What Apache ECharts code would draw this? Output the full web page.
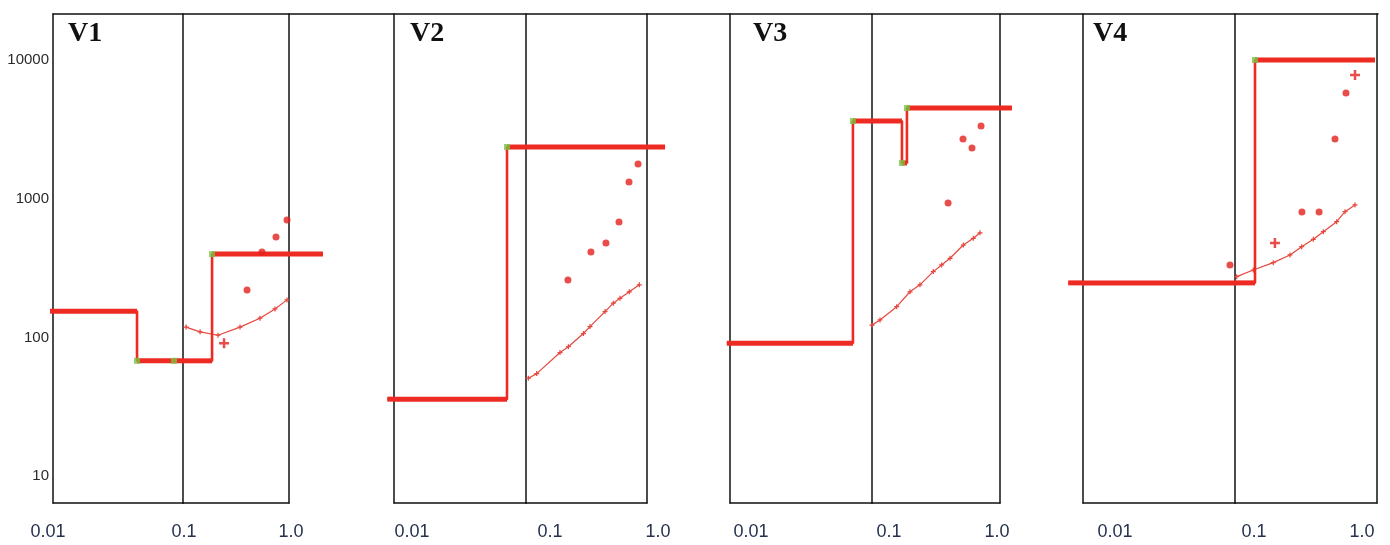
<!DOCTYPE html>
<html><head><meta charset="utf-8">
<script src="https://cdn.jsdelivr.net/npm/echarts@6/dist/echarts.min.js"></script>
<style>html,body{margin:0;padding:0;background:#fff}#c{width:1390px;height:545px}</style>
</head><body><div id="c"></div>
<script>
// ---------------- data ----------------
const panelNames = ['V1', 'V2', 'V3', 'V4'];
const xTickLabels = ['0.01', '0.1', '1.0'];          // 10^-2, 10^-1, 10^0
const yTickLabels = ['10', '100', '1000', '10000'];   // 10^1 .. 10^4

const v1Step  = [[0.0095,155],[0.0443,155],[0.0443,68],[0.188,68],[0.188,400],[2.09,400]];
const v1Nodes = [[0.0443,68],[0.0853,68],[0.188,400]];
const v1Curve = [[0.107,119],[0.145,110],[0.214,104],[0.345,119],[0.532,138],[0.738,161],[0.958,187]];
const v1Dots  = [[0.402,220],[0.556,414],[0.754,531],[0.958,705]];
const v1Plus  = [[0.244,91]];

const v2Step  = [[0.0089,36],[0.0718,36],[0.0718,2366],[1.41,2366]];
const v2Nodes = [[0.0718,2366]];
const v2Curve = [[0.1045,51],[0.1226,55],[0.191,78],[0.224,86],[0.298,107],[0.338,120],[0.450,154],[0.527,177],[0.598,192],[0.714,214],[0.864,240]];
const v2Dots  = [[0.222,260],[0.344,414],[0.458,481],[0.587,681],[0.710,1324],[0.843,1786]];
const v2Plus  = [];

const v3Step  = [[0.0095,91],[0.0734,91],[0.0734,3644],[0.1714,3644],[0.1714,1815],[0.1875,1815],[0.1875,4523],[1.24,4523]];
const v3Nodes = [[0.0734,3644],[0.1714,1815],[0.1875,4523]];
const v3Curve = [[0.1,123],[0.1155,134],[0.156,167],[0.198,214],[0.237,240],[0.301,299],[0.350,334],[0.407,373],[0.517,465],[0.619,520],[0.698,570]];
const v3Dots  = [[0.393,934],[0.514,2704],[0.604,2328],[0.711,3354]];
const v3Plus  = [];

const v4Step  = [[0.008,248],[0.1383,248],[0.1383,10035],[0.968,10035]];
const v4Nodes = [[0.1383,10035]];
const v4Curve = [[0.1028,275],[0.1346,307],[0.186,347],[0.244,394],[0.295,452],[0.356,511],[0.419,580],[0.520,685],[0.595,808],[0.700,904]];
const v4Dots  = [[0.0927,334],[0.296,804],[0.391,804],[0.506,2704],[0.605,5801]];
const v4Plus  = [[0.191,481],[0.700,7825]];

const panelData = [
  {step: v1Step, nodes: v1Nodes, curve: v1Curve, dots: v1Dots, plus: v1Plus},
  {step: v2Step, nodes: v2Nodes, curve: v2Curve, dots: v2Dots, plus: v2Plus},
  {step: v3Step, nodes: v3Nodes, curve: v3Curve, dots: v3Dots, plus: v3Plus},
  {step: v4Step, nodes: v4Nodes, curve: v4Curve, dots: v4Dots, plus: v4Plus}
];

// ---------------- layout / style ----------------
const layout = [
  {x0: 53,   x1: 183,  x2: 289,  title: 68,   dx: [-5, 1, 2]},
  {x0: 394,  x1: 526,  x2: 647,  title: 410,  dx: [18, 24, 11]},
  {x0: 730,  x1: 872,  x2: 1000, title: 753,  dx: [21, 17, -3]},
  {x0: 1083, x1: 1235, x2: 1377, title: 1093, dx: [32, 19, -15]}
];
const TOP = 14, BOTTOM = 42;
const Y_MIN = Math.pow(10, 0.8075), Y_MAX = Math.pow(10, 4.333);
const BOUNDS = [0.01, 0.1, 1];
const LEFT_OVER = 0.15, RIGHT_OVER = 0.35;   // overhang beyond the frame, in decades
const RED = '#ee2b23', CURVE_RED = '#e6473f', DOT_RED = '#e3211c', GREEN = '#7cc242';
const AXIS = {show: true, onZero: false, lineStyle: {color: '#111', width: 1.5}};
const PLUS = 'path://M3,0H5V3H8V5H5V8H3V5H0V3H3Z';

const segRanges = [
  [Math.pow(10, -2 - LEFT_OVER), 0.01], [0.01, 0.1], [0.1, 1], [1, Math.pow(10, RIGHT_OVER)]
];
function inSeg(x, s) { return x >= segRanges[s][0] - 1e-12 && x <= segRanges[s][1] + 1e-12; }
// cut a path at the frame boundaries (step runs are horizontal where they cross)
function splitPath(points) {
  const pieces = [[], [], [], []];
  for (let i = 0; i < points.length; i++) {
    const p = points[i];
    for (let s = 0; s < 4; s++) if (inSeg(p[0], s)) pieces[s].push(p);
    const q = points[i + 1];
    if (!q) continue;
    BOUNDS.forEach((b, bi) => {
      if ((p[0] - b) * (q[0] - b) < 0) { pieces[bi].push([b, p[1]]); pieces[bi + 1].push([b, q[1]]); }
    });
  }
  return pieces;
}
function segOfPoint(x) { let s = 0; while (s < 3 && x >= BOUNDS[s]) s++; return s; }
function plateaus(step) {
  const runs = [];
  for (let i = 0; i < step.length - 1; i++) if (step[i][1] === step[i + 1][1]) runs.push([step[i], step[i + 1]]);
  return runs;
}
function logIdx(v) { const l = Math.log10(v), r = Math.round(l); return Math.abs(l - r) < 1e-6 ? r : null; }
function pad(dx) { return dx >= 0 ? [0, 0, 0, 2 * dx] : [0, -2 * dx, 0, 0]; }

const grids = [], xAxes = [], yAxes = [], series = [], titles = [];
const gridY = [];   // yAxis index used by series in each grid

layout.forEach((lay, k) => {
  const wL = lay.x1 - lay.x0, wR = lay.x2 - lay.x1;
  const rich = {};
  lay.dx.forEach((d, i) => {
    rich['t' + i] = {padding: pad(d), fontSize: 18, color: '#26314d', fontFamily: 'Liberation Sans', lineHeight: 20};
  });
  const xLab = (allowed) => ({
    show: true, margin: 19, showMinLabel: true, showMaxLabel: true,
    fontSize: 18, color: '#26314d', fontFamily: 'Liberation Sans',
    formatter: (v) => {
      const r = logIdx(v);
      if (r === null) return '';
      const i = r + 2;
      return allowed.indexOf(i) < 0 ? '' : '{t' + i + '|' + xTickLabels[i] + '}';
    },
    rich: rich
  });
  const gBoxes = [
    {left: lay.x0 - LEFT_OVER * wL, width: LEFT_OVER * wL},
    {left: lay.x0, width: wL},
    {left: lay.x1, width: wR},
    {left: lay.x2, width: RIGHT_OVER * wR}
  ];
  const yBase = {type: 'log', min: Y_MIN, max: Y_MAX, axisTick: {show: false}, splitLine: {show: false}};
  gBoxes.forEach((b, s) => {
    const gi = grids.length;
    grids.push({left: b.left, width: b.width, top: TOP, bottom: BOTTOM, outerBoundsMode: 'none', containLabel: false});
    const visible = (s === 1 || s === 2);
    xAxes.push({type: 'log', gridIndex: gi, min: segRanges[s][0], max: segRanges[s][1], position: 'bottom',
      show: visible, axisLine: AXIS, axisTick: {show: false}, splitLine: {show: false},
      axisLabel: visible ? xLab(s === 1 ? [0] : [1, 2]) : {show: false}});
    gridY.push(yAxes.length);
    if (s === 1) {
      yAxes.push(Object.assign({}, yBase, {gridIndex: gi, position: 'left', axisLine: AXIS,
        axisLabel: k === 0 ? {
          show: true, margin: 4, fontSize: 15, color: '#2a2a2a', fontFamily: 'Liberation Sans',
          showMinLabel: true, showMaxLabel: true,
          formatter: (v) => { const r = logIdx(v); return (r !== null && r >= 1 && r <= 4) ? yTickLabels[r - 1] : ''; }
        } : {show: false}}));
    } else if (s === 2) {
      yAxes.push(Object.assign({}, yBase, {gridIndex: gi, position: 'left', axisLine: AXIS, axisLabel: {show: false}}));
      yAxes.push(Object.assign({}, yBase, {gridIndex: gi, position: 'right', axisLine: AXIS, axisLabel: {show: false}}));
    } else {
      yAxes.push(Object.assign({}, yBase, {gridIndex: gi, show: false}));
    }
  });

  titles.push({text: panelNames[k], left: lay.title, top: 20, padding: 0,
    textStyle: {fontFamily: 'Liberation Serif', fontWeight: 'bold', fontSize: 28, color: '#111'}});

  const d = panelData[k];
  const add = (s, seg) => {
    const gi = 4 * k + seg;
    series.push(Object.assign({xAxisIndex: gi, yAxisIndex: gridY[gi], clip: false, animation: false, silent: true}, s));
  };

  // curves (thin, with small marks)
  splitPath(d.curve).forEach((pts, seg) => {
    if (pts.length > 1) add({type: 'line', data: pts, symbol: PLUS, symbolSize: 5, showSymbol: true,
      itemStyle: {color: CURVE_RED}, lineStyle: {color: CURVE_RED, width: 1.2}, z: 2}, seg);
  });
  // step path
  splitPath(d.step).forEach((pts, seg) => {
    if (pts.length > 1) add({type: 'line', data: pts, showSymbol: false, lineStyle: {color: RED, width: 2.6}, z: 3}, seg);
  });
  // thick plateaus
  plateaus(d.step).forEach(run => {
    splitPath(run).forEach((pts, seg) => {
      if (pts.length > 1) add({type: 'line', data: pts, showSymbol: false, lineStyle: {color: RED, width: 5}, z: 3}, seg);
    });
  });
  // scatter dots / plus marks / green nodes
  const bySeg = (pts) => { const o = [[], [], [], []]; pts.forEach(p => o[segOfPoint(p[0])].push(p)); return o; };
  const dd = bySeg(d.dots), pp = bySeg(d.plus), nn = bySeg(d.nodes);
  for (let seg = 0; seg < 4; seg++) {
    if (dd[seg].length) add({type: 'scatter', data: dd[seg], symbol: 'circle', symbolSize: 7, itemStyle: {color: DOT_RED}, z: 4}, seg);
    if (pp[seg].length) add({type: 'scatter', data: pp[seg], symbol: PLUS, symbolSize: 10, itemStyle: {color: DOT_RED}, z: 4}, seg);
    if (nn[seg].length) add({type: 'scatter', data: nn[seg], symbol: 'rect', symbolSize: 6, itemStyle: {color: GREEN}, z: 5}, seg);
  }
});

// continuous top frame line
grids.push({left: 53, right: 12, top: TOP, height: 20, outerBoundsMode: 'none', containLabel: false});
xAxes.push({type: 'value', gridIndex: grids.length - 1, min: 0, max: 1, position: 'top',
  axisLine: AXIS, axisTick: {show: false}, axisLabel: {show: false}, splitLine: {show: false}});
yAxes.push({type: 'value', gridIndex: grids.length - 1, show: false});

const chart = echarts.init(document.getElementById('c'), null, {renderer: 'canvas'});
chart.setOption({
  backgroundColor: '#fff',
  animation: false,
  title: titles,
  grid: grids,
  xAxis: xAxes,
  yAxis: yAxes,
  series: series
});
</script></body></html>
